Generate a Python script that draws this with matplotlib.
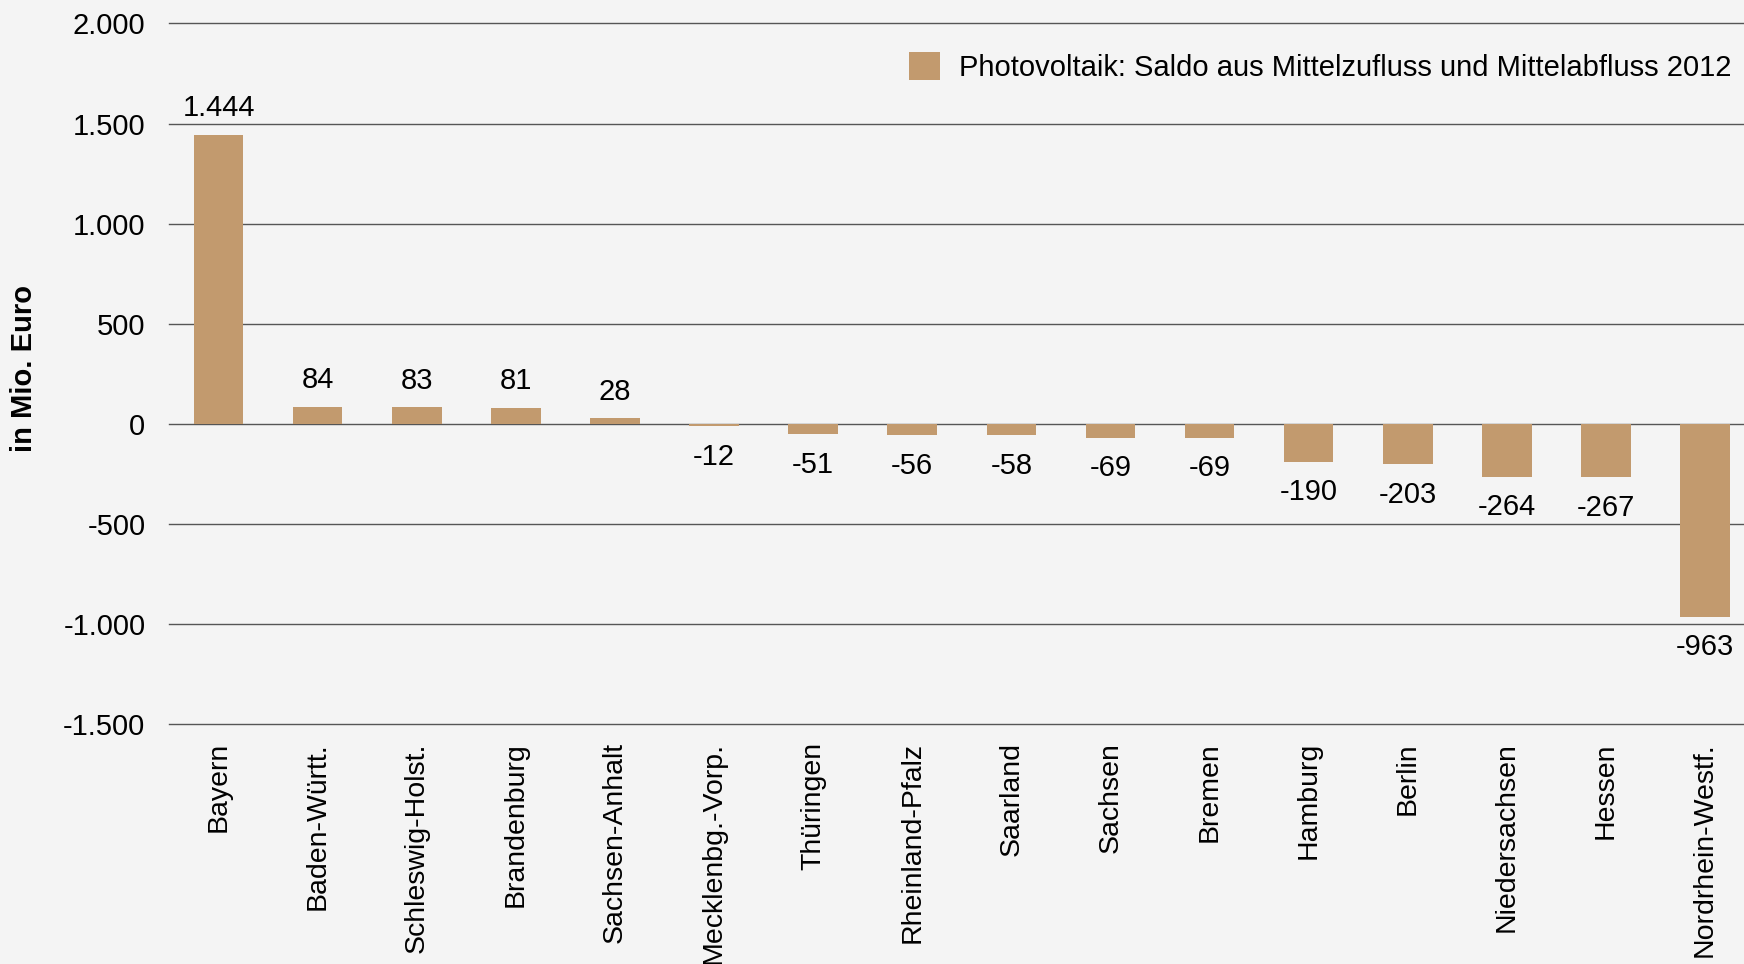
import matplotlib
matplotlib.use("Agg")
import matplotlib.pyplot as plt
from matplotlib.patches import Patch

plt.rcParams['font.family'] = ['Liberation Sans', 'DejaVu Sans']

categories = ["Bayern", "Baden-Württ.", "Schleswig-Holst.", "Brandenburg", "Sachsen-Anhalt",
              "Mecklenbg.-Vorp.", "Thüringen", "Rheinland-Pfalz", "Saarland", "Sachsen",
              "Bremen", "Hamburg", "Berlin", "Niedersachsen", "Hessen", "Nordrhein-Westf."]
values = [1444, 84, 83, 81, 28, -12, -51, -56, -58, -69, -69, -190, -203, -264, -267, -963]
labels = ["1.444", "84", "83", "81", "28", "-12", "-51", "-56", "-58", "-69", "-69",
          "-190", "-203", "-264", "-267", "-963"]
yticks = [-1500, -1000, -500, 0, 500, 1000, 1500, 2000]
ytick_labels = ["-1.500", "-1.000", "-500", "0", "500", "1.000", "1.500", "2.000"]
legend_label = "Photovoltaik: Saldo aus Mittelzufluss und Mittelabfluss 2012"

bg = "#f4f4f4"
bar_color = "#c29a6e"
W, H = 1744, 964
FS = 21

fig = plt.figure(figsize=(W / 100, H / 100), dpi=100, facecolor=bg)
left, right_px, top, bottom = 169, 169 + 16 * 99.1, 23.5, 724
ax = fig.add_axes([left / W, 1 - bottom / H, (right_px - left) / W, (bottom - top) / H])
ax.set_facecolor(bg)

x = list(range(len(categories)))
ax.bar(x, values, width=0.5, color=bar_color, zorder=3)
ax.set_xlim(-0.5, len(categories) - 0.5)
ax.set_ylim(-1500, 2000)
ax.set_yticks(yticks)
ax.set_yticklabels(ytick_labels, fontsize=FS)
ax.set_xticks(x)
ax.set_xticklabels(categories, rotation=90, fontsize=20.5, va='top', ha='center')
ax.tick_params(axis='both', length=0)
ax.tick_params(axis='y', pad=17)
ax.tick_params(axis='x', pad=13)
for s in ax.spines.values():
    s.set_visible(False)
for yt in yticks:
    ax.axhline(yt, color="#555555", linewidth=1.0, zorder=2, clip_on=False)

for xi, v, lab in zip(x, values, labels):
    if v >= 0:
        ax.annotate(lab, (xi, v), xytext=(0, 9), textcoords='offset points',
                    ha='center', va='bottom', fontsize=FS)
    else:
        ax.annotate(lab, (xi, v), xytext=(0, -12), textcoords='offset points',
                    ha='center', va='top', fontsize=FS)

fig.text(24.5 / W, 1 - 368 / H, "in Mio. Euro", fontsize=FS, fontweight='bold',
         rotation=90, ha='center', va='center')

handle = Patch(facecolor=bar_color, edgecolor='none')
fig.legend([handle], [legend_label], loc='center left',
           bbox_to_anchor=(909 / W, 1 - 67 / H), frameon=False, fontsize=FS,
           handlelength=1.05, handleheight=1.1, handletextpad=0.65,
           borderpad=0, borderaxespad=0)

fig.savefig("out.png", dpi=100, facecolor=bg)
